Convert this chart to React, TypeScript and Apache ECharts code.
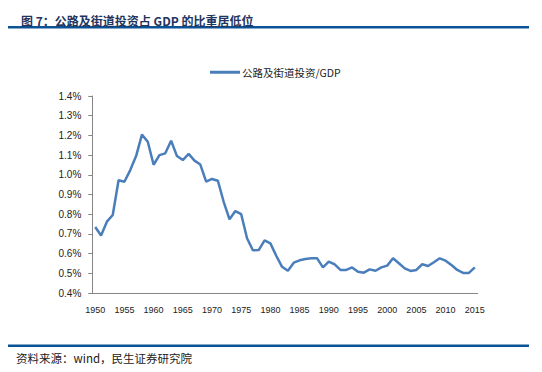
import React, { useEffect, useRef } from "react";
import * as echarts from "echarts";

const years: string[] = [];
for (let y = 1950; y <= 2015; y++) years.push(String(y));

const ratio = [
  0.735, 0.692, 0.762, 0.796, 0.972, 0.965, 1.024, 1.095, 1.204, 1.168,
  1.051, 1.1, 1.109, 1.173, 1.095, 1.075, 1.106, 1.072, 1.052, 0.965,
  0.979, 0.97, 0.863, 0.774, 0.816, 0.8, 0.678, 0.617, 0.618, 0.667,
  0.652, 0.589, 0.533, 0.513, 0.554, 0.566, 0.573, 0.576, 0.576, 0.53,
  0.559, 0.545, 0.517, 0.517, 0.53, 0.508, 0.503, 0.52, 0.513, 0.53,
  0.539, 0.576, 0.551, 0.525, 0.512, 0.517, 0.546, 0.537, 0.556, 0.576,
  0.564, 0.542, 0.517, 0.502, 0.502, 0.53,
];

const titleText = "图 7：公路及街道投资占 GDP 的比重居低位";
const sourceText = "资料来源：wind，民生证券研究院";
const seriesName = "公路及街道投资/GDP";

export default function App() {
  const ref = useRef<HTMLDivElement>(null);
  useEffect(() => {
    if (!ref.current) return;
    const chart = echarts.init(ref.current, undefined, { renderer: "svg" });
    chart.setOption({
      animation: false,
      backgroundColor: "#ffffff",
      title: {
        text: titleText,
        left: 16,
        top: 9,
        textStyle: {
          fontFamily: "Noto Sans CJK SC",
          fontWeight: "bold",
          fontSize: 12,
          color: "#1F3560",
        },
      },
      graphic: [
        { type: "rect", shape: { x: 8, y: 26, width: 521, height: 2.5 }, style: { fill: "#0B5296" } },
        { type: "rect", shape: { x: 8, y: 344.5, width: 521, height: 2.5 }, style: { fill: "#0B5296" } },
        {
          type: "text",
          x: 16,
          y: 358,
          style: {
            text: sourceText,
            fontFamily: "Noto Sans CJK SC",
            fontSize: 11.5,
            fill: "#222222",
            verticalAlign: "middle",
          },
        },
      ],
      legend: {
        left: 205,
        top: 62,
        itemWidth: 30,
        itemHeight: 3,
        itemGap: 10,
        icon: "rect",
        textStyle: {
          fontFamily: "Noto Sans CJK SC",
          fontSize: 10.5,
          color: "#222222",
          padding: [0, 0, 0, -3],
        },
        data: [seriesName],
      },
      grid: { left: 92.3, right: 64.3, top: 96, bottom: 79, containLabel: false },
      xAxis: {
        type: "category",
        data: years,
        boundaryGap: true,
        axisLine: { lineStyle: { color: "#868686", width: 1 } },
        axisTick: { interval: 4, length: 4, lineStyle: { color: "#868686" } },
        axisLabel: {
          interval: 4,
          margin: 12,
          fontFamily: "Liberation Sans",
          fontSize: 9,
          color: "#222222",
        },
        splitLine: { show: false },
      },
      yAxis: {
        type: "value",
        min: 0.4,
        max: 1.4,
        interval: 0.1,
        axisLine: { show: true, lineStyle: { color: "#868686", width: 1 } },
        axisTick: { show: true, length: 4, lineStyle: { color: "#868686" } },
        axisLabel: {
          margin: 11,
          fontFamily: "Liberation Sans",
          fontSize: 10,
          color: "#222222",
          formatter: (v: number) => v.toFixed(1) + "%",
        },
        splitLine: { show: false },
      },
      series: [
        {
          name: seriesName,
          type: "line",
          data: ratio,
          showSymbol: false,
          symbol: "none",
          lineStyle: { color: "#4A7EBB", width: 2.5 },
          itemStyle: { color: "#4A7EBB" },
        },
      ],
    });
    return () => chart.dispose();
  }, []);
  return (
    <div
      ref={ref}
      style={{ position: "fixed", left: 0, top: 0, width: 542, height: 372 }}
    />
  );
}
